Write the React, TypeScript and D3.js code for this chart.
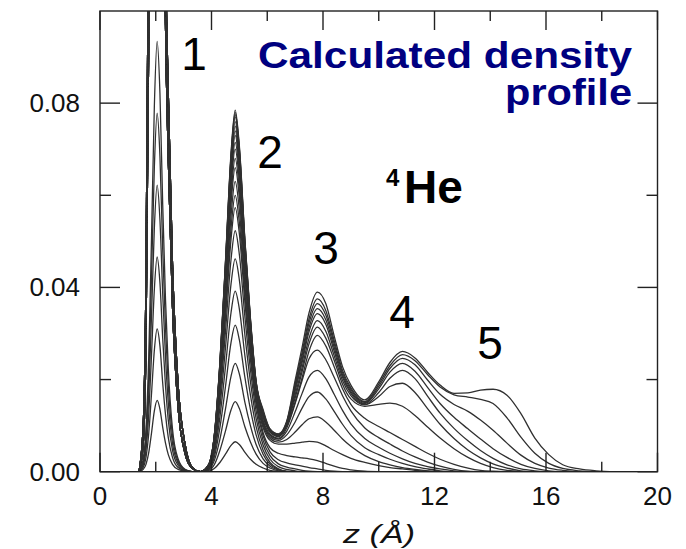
import React from "react";
import * as d3 from "d3";

// ---------- data ----------
const xMajorTicks = [0, 4, 8, 12, 16, 20];
const xMinorTicks = [2, 6, 10, 14, 18];
const yMajorTicks = [0, 0.04, 0.08];
const yMinorTicks = [0.02, 0.06];

// z grid of the first-layer region
const zLayer1 = [1.4, 1.55, 1.65, 1.75, 1.85, 1.95, 2.05, 2.15, 2.25, 2.35, 2.45, 2.6, 2.8, 3.05, 3.3];

// low coverages: only the first layer is being filled
const firstLayerProfiles = [
  [0, 0.0005, 0.0016, 0.0042, 0.0085, 0.0132, 0.0155, 0.0136, 0.0096, 0.0062, 0.0037, 0.0016, 0.0005, 0.0001, 0],
  [0, 0.0009, 0.0031, 0.0084, 0.0171, 0.0264, 0.031, 0.0273, 0.0192, 0.0124, 0.0074, 0.0031, 0.0009, 0.0002, 0],
  [0, 0.0014, 0.0047, 0.0126, 0.0256, 0.0396, 0.0466, 0.041, 0.0289, 0.0186, 0.0112, 0.0047, 0.0014, 0.0002, 0],
  [0, 0.0019, 0.0062, 0.0168, 0.0342, 0.0529, 0.0622, 0.0547, 0.0386, 0.0249, 0.0149, 0.0062, 0.0019, 0.0003, 0],
  [0, 0.0023, 0.0078, 0.021, 0.0428, 0.0661, 0.0778, 0.0685, 0.0482, 0.0311, 0.0187, 0.0078, 0.0023, 0.0004, 0],
  [0, 0.0028, 0.0093, 0.0252, 0.0514, 0.0794, 0.0934, 0.0822, 0.0579, 0.0374, 0.0224, 0.0093, 0.0028, 0.0005, 0],
];

// completed first layer (peak runs off the top of the plot)
const firstLayerFullA = [0, 0.006, 0.028, 0.095, 0.2, 0.3, 0.34, 0.3, 0.16, 0.097, 0.068, 0.036, 0.014, 0.004, 0.0008];
const firstLayerFullB = [0, 0.01, 0.042, 0.125, 0.24, 0.34, 0.38, 0.34, 0.2, 0.115, 0.082, 0.045, 0.019, 0.006, 0.001];

// z grid of the outer layers (2..5)
const zOuter = [3.6, 3.9, 4.1, 4.3, 4.5, 4.7, 4.85, 5.0, 5.2, 5.4, 5.6, 5.85, 6.1, 6.4, 6.7, 7.0, 7.25, 7.5, 7.8,
  8.1, 8.4, 8.7, 9.0, 9.5, 10.0, 10.4, 10.85, 11.3, 11.75, 12.2, 12.7, 13.2, 13.65, 14.1, 14.6, 15.1, 15.6,
  16.1, 16.6, 17.2, 17.8, 18.5];

// higher coverages: density beyond the first layer
const outerProfiles = [
  [0, 0.0001, 0.0007, 0.002, 0.0038, 0.0057, 0.0065, 0.0059, 0.0042, 0.0027, 0.0016, 0.0008, 0.0003, 0.0001, 0],
  [0, 0.0003, 0.0015, 0.0046, 0.0088, 0.0134, 0.0152, 0.0137, 0.0097, 0.0064, 0.0038, 0.0018, 0.0008, 0.0002, 0],
  [0, 0.0005, 0.0024, 0.007, 0.0136, 0.0207, 0.0235, 0.0212, 0.015, 0.0099, 0.0059, 0.0028, 0.0012, 0.0004, 0],
  [0, 0.0006, 0.0032, 0.0095, 0.0184, 0.028, 0.0318, 0.0286, 0.0204, 0.0134, 0.008, 0.0038, 0.0016, 0.0005, 0],
  [0, 0.0008, 0.0039, 0.0118, 0.0227, 0.0345, 0.0392, 0.0353, 0.0251, 0.0165, 0.0098, 0.0047, 0.002, 0.0006, 0.0001, 0],
  [0, 0.0009, 0.0046, 0.0139, 0.0268, 0.0407, 0.0462, 0.0416, 0.0296, 0.0194, 0.0116, 0.0058, 0.0027, 0.0011, 0.0005, 0.0002, 0],
  [0, 0.001, 0.0052, 0.0157, 0.0303, 0.046, 0.0523, 0.0471, 0.0335, 0.022, 0.0132, 0.0068, 0.0035, 0.0017, 0.001, 0.0006, 0.0003, 0.0001, 0],
  [0, 0.0011, 0.0057, 0.0172, 0.0332, 0.0504, 0.0573, 0.0516, 0.0367, 0.0242, 0.0146, 0.0078, 0.0043, 0.0026, 0.0019, 0.0015, 0.0012, 0.0009, 0.0006, 0.0003, 0.0001, 0],
  [0, 0.0012, 0.006, 0.018, 0.0348, 0.0528, 0.06, 0.054, 0.0385, 0.0255, 0.0155, 0.0085, 0.0052, 0.004, 0.0035, 0.0032, 0.003, 0.0028, 0.0024, 0.0018, 0.0012, 0.0007, 0.0004, 0.0001, 0],
  [0, 0.0013, 0.0063, 0.0189, 0.0365, 0.0554, 0.063, 0.0567, 0.0403, 0.0265, 0.0158, 0.0096, 0.0068, 0.006, 0.006, 0.0062, 0.0064, 0.0066, 0.0064, 0.0056, 0.0046, 0.0037, 0.0029, 0.002, 0.0013, 0.0009, 0.0006, 0.0003, 0.0001, 0],
  [0, 0.0013, 0.0066, 0.0198, 0.0383, 0.0581, 0.066, 0.0594, 0.0422, 0.0277, 0.0165, 0.0101, 0.0072, 0.0064, 0.007, 0.0086, 0.0102, 0.0115, 0.0119, 0.0108, 0.009, 0.0071, 0.0055, 0.0035, 0.0022, 0.0015, 0.0009, 0.0005, 0.0002, 0],
  [0, 0.0014, 0.0068, 0.0204, 0.0394, 0.0598, 0.068, 0.0612, 0.0435, 0.0286, 0.017, 0.0105, 0.0076, 0.0068, 0.008, 0.0108, 0.0138, 0.0163, 0.0173, 0.0158, 0.0131, 0.0103, 0.0079, 0.0052, 0.0037, 0.0027, 0.0018, 0.0011, 0.0006, 0.0002, 0],
  [0, 0.0014, 0.007, 0.021, 0.0406, 0.0616, 0.07, 0.063, 0.0448, 0.0294, 0.0175, 0.0108, 0.0079, 0.0071, 0.0088, 0.013, 0.017, 0.0206, 0.022, 0.0202, 0.0168, 0.0133, 0.0104, 0.0072, 0.0053, 0.004, 0.0028, 0.0018, 0.0011, 0.0006, 0.0002, 0],
  [0, 0.0014, 0.0072, 0.0215, 0.0415, 0.0629, 0.0715, 0.0644, 0.0458, 0.03, 0.0179, 0.0112, 0.0082, 0.0073, 0.0095, 0.0148, 0.0198, 0.0245, 0.0264, 0.0243, 0.0205, 0.0165, 0.0132, 0.0095, 0.0074, 0.006, 0.0045, 0.0032, 0.0021, 0.0012, 0.0005, 0.0001, 0],
  [0, 0.0015, 0.0073, 0.0219, 0.0423, 0.0642, 0.073, 0.0657, 0.0467, 0.0307, 0.0183, 0.0118, 0.0086, 0.0076, 0.0099, 0.0151, 0.0204, 0.0262, 0.0296, 0.0273, 0.0228, 0.018, 0.0146, 0.0116, 0.0098, 0.0085, 0.007, 0.0055, 0.004, 0.0027, 0.0016, 0.0008, 0.0003, 0.0001, 0],
  [0, 0.0015, 0.0074, 0.0222, 0.0429, 0.0651, 0.074, 0.0666, 0.0474, 0.0311, 0.0185, 0.0122, 0.0087, 0.0077, 0.0102, 0.016, 0.0217, 0.0278, 0.0314, 0.029, 0.0242, 0.019, 0.0158, 0.0142, 0.0146, 0.0149, 0.0142, 0.0122, 0.0097, 0.0073, 0.005, 0.0031, 0.0018, 0.0009, 0.0003, 0],
  [0, 0.0015, 0.0075, 0.0225, 0.0435, 0.066, 0.075, 0.0675, 0.048, 0.0315, 0.0188, 0.0125, 0.0088, 0.0078, 0.0104, 0.0167, 0.0226, 0.029, 0.0328, 0.0305, 0.0252, 0.0198, 0.0165, 0.0145, 0.0163, 0.0185, 0.0192, 0.0172, 0.0137, 0.0103, 0.0072, 0.0047, 0.003, 0.0017, 0.0008, 0.0002, 0],
  [0, 0.0015, 0.0076, 0.0228, 0.0441, 0.0669, 0.076, 0.0684, 0.0486, 0.0319, 0.019, 0.0127, 0.0089, 0.0079, 0.0105, 0.0175, 0.0237, 0.0304, 0.0343, 0.032, 0.0262, 0.0205, 0.017, 0.0146, 0.0172, 0.0203, 0.022, 0.0202, 0.0164, 0.0127, 0.0094, 0.0067, 0.0046, 0.0029, 0.0015, 0.0006, 0.0002, 0],
  [0, 0.0015, 0.0077, 0.0231, 0.0447, 0.0678, 0.077, 0.0693, 0.0493, 0.0323, 0.0193, 0.0129, 0.009, 0.008, 0.0106, 0.0181, 0.0244, 0.0313, 0.0354, 0.033, 0.027, 0.021, 0.0174, 0.0148, 0.018, 0.0216, 0.0235, 0.0218, 0.0183, 0.0148, 0.0118, 0.0093, 0.0071, 0.005, 0.0031, 0.0016, 0.0007, 0.0002, 0],
  [0, 0.0016, 0.0078, 0.0233, 0.045, 0.0682, 0.0775, 0.0698, 0.0496, 0.0326, 0.0194, 0.013, 0.0091, 0.0081, 0.0107, 0.0186, 0.0252, 0.0323, 0.0365, 0.034, 0.0278, 0.0215, 0.0178, 0.015, 0.0185, 0.0224, 0.0246, 0.0232, 0.0199, 0.0168, 0.0146, 0.0131, 0.0112, 0.009, 0.0062, 0.0036, 0.0018, 0.0008, 0.0003, 0],
  [0, 0.0016, 0.0078, 0.0234, 0.0452, 0.0686, 0.078, 0.0702, 0.0499, 0.0328, 0.0195, 0.0132, 0.0092, 0.0081, 0.0108, 0.0191, 0.0259, 0.0332, 0.0375, 0.035, 0.0285, 0.022, 0.0182, 0.0152, 0.019, 0.023, 0.0254, 0.0241, 0.0211, 0.0184, 0.0167, 0.0162, 0.0157, 0.0148, 0.0117, 0.0075, 0.004, 0.0018, 0.0007, 0.0002, 0],
  [0, 0.0016, 0.0079, 0.0236, 0.0455, 0.0691, 0.0785, 0.0707, 0.0502, 0.033, 0.0196, 0.0135, 0.0093, 0.0082, 0.011, 0.0198, 0.027, 0.0345, 0.039, 0.0365, 0.0295, 0.0228, 0.0188, 0.0156, 0.0195, 0.0237, 0.0261, 0.0247, 0.0216, 0.0188, 0.017, 0.0171, 0.0177, 0.0179, 0.0166, 0.0126, 0.0073, 0.0037, 0.0015, 0.0006, 0.0002, 0],
];

const layerLabels = ["1", "2", "3", "4", "5"];

// ---------- layout ----------
const W = 686;
const H = 549;
const plot = { left: 100, right: 657.5, top: 11, bottom: 471.7 };
const FONT = "'Liberation Sans', Arial, Helvetica, sans-serif";

export default function App() {
  const x = d3.scaleLinear().domain([0, 20]).range([plot.left, plot.right]);
  const y = d3.scaleLinear().domain([0, 0.1]).range([plot.bottom, plot.top]);

  const line = d3
    .line<[number, number]>()
    .x((d) => x(d[0]))
    .y((d) => y(d[1]))
    .curve(d3.curveMonotoneX);

  const series: [number, number][][] = [];
  firstLayerProfiles.forEach((vals) => {
    series.push(vals.map((v, i) => [zLayer1[i], v] as [number, number]));
  });
  outerProfiles.forEach((vals, k) => {
    const base = k < 11 ? firstLayerFullA : firstLayerFullB;
    const pts: [number, number][] = base.map((v, i) => [zLayer1[i], v] as [number, number]);
    vals.forEach((v, i) => pts.push([zOuter[i], v]));
    series.push(pts);
  });

  const fmt = d3.format(".2f");
  const majorLen = 20;
  const minorLen = 11;

  // layer-number label anchors (pixel positions)
  const numberPos = [
    [194, 70],
    [270, 168],
    [326, 264],
    [402, 328],
    [490, 359],
  ];

  return (
    <svg
      width={W}
      height={H}
      style={{ position: "absolute", left: 0, top: 0, background: "#fff" }}
      fontFamily={FONT}
    >
      <defs>
        <clipPath id="plotClip">
          <rect x={plot.left} y={plot.top} width={plot.right - plot.left} height={plot.bottom - plot.top} />
        </clipPath>
      </defs>
      <rect x={0} y={0} width={W} height={H} fill="#fff" />

      {/* curves */}
      <g clipPath="url(#plotClip)" fill="none" stroke="#303030" strokeWidth={1.3} strokeLinejoin="round">
        {series.map((s, i) => (
          <path key={i} d={line(s) || ""} />
        ))}
      </g>

      {/* frame */}
      <rect
        x={plot.left}
        y={plot.top}
        width={plot.right - plot.left}
        height={plot.bottom - plot.top}
        fill="none"
        stroke="#222"
        strokeWidth={1.4}
      />

      {/* ticks (inside, all four sides) */}
      <g stroke="#222" strokeWidth={1.4}>
        {xMajorTicks.map((t) => (
          <g key={"xM" + t}>
            <line x1={x(t)} x2={x(t)} y1={plot.bottom} y2={plot.bottom - 19} />
            <line x1={x(t)} x2={x(t)} y1={plot.top} y2={plot.top + 19} />
          </g>
        ))}
        {xMinorTicks.map((t) => (
          <g key={"xm" + t}>
            <line x1={x(t)} x2={x(t)} y1={plot.bottom} y2={plot.bottom - 10} />
            <line x1={x(t)} x2={x(t)} y1={plot.top} y2={plot.top + 10} />
          </g>
        ))}
        {yMajorTicks.map((t) => (
          <g key={"yM" + t}>
            <line x1={plot.left} x2={plot.left + majorLen} y1={y(t)} y2={y(t)} />
            <line x1={plot.right} x2={plot.right - majorLen} y1={y(t)} y2={y(t)} />
          </g>
        ))}
        {yMinorTicks.map((t) => (
          <g key={"ym" + t}>
            <line x1={plot.left} x2={plot.left + minorLen} y1={y(t)} y2={y(t)} />
            <line x1={plot.right} x2={plot.right - minorLen} y1={y(t)} y2={y(t)} />
          </g>
        ))}
      </g>

      {/* tick labels */}
      <g fill="#111" fontSize={26}>
        {yMajorTicks.map((t) => (
          <text key={"yl" + t} x={80} y={y(t) + 9} textAnchor="end">
            {fmt(t)}
          </text>
        ))}
        {xMajorTicks.map((t) => (
          <text key={"xl" + t} x={x(t)} y={505} textAnchor="middle">
            {t}
          </text>
        ))}
      </g>

      {/* axis title */}
      <text x={343} y={543} fontSize={25} fontStyle="italic" fill="#111" textLength={72} lengthAdjust="spacingAndGlyphs">
        z (Å)
      </text>

      {/* layer numbers */}
      <g fontSize={46} fill="#000" textAnchor="middle">
        {layerLabels.map((l, i) => (
          <text key={l} x={numberPos[i][0]} y={numberPos[i][1]}>
            {l}
          </text>
        ))}
      </g>

      {/* title */}
      <g fill="#000080" fontWeight="bold" fontSize={37}>
        <text x={258} y={68} textLength={374} lengthAdjust="spacingAndGlyphs">
          Calculated density
        </text>
        <text x={505} y={105} textLength={127} lengthAdjust="spacingAndGlyphs">
          profile
        </text>
      </g>

      {/* 4He */}
      <g fill="#000" fontWeight="bold">
        <text x={386} y={186} fontSize={24}>
          4
        </text>
        <text x={404} y={203} fontSize={46}>
          He
        </text>
      </g>
    </svg>
  );
}
